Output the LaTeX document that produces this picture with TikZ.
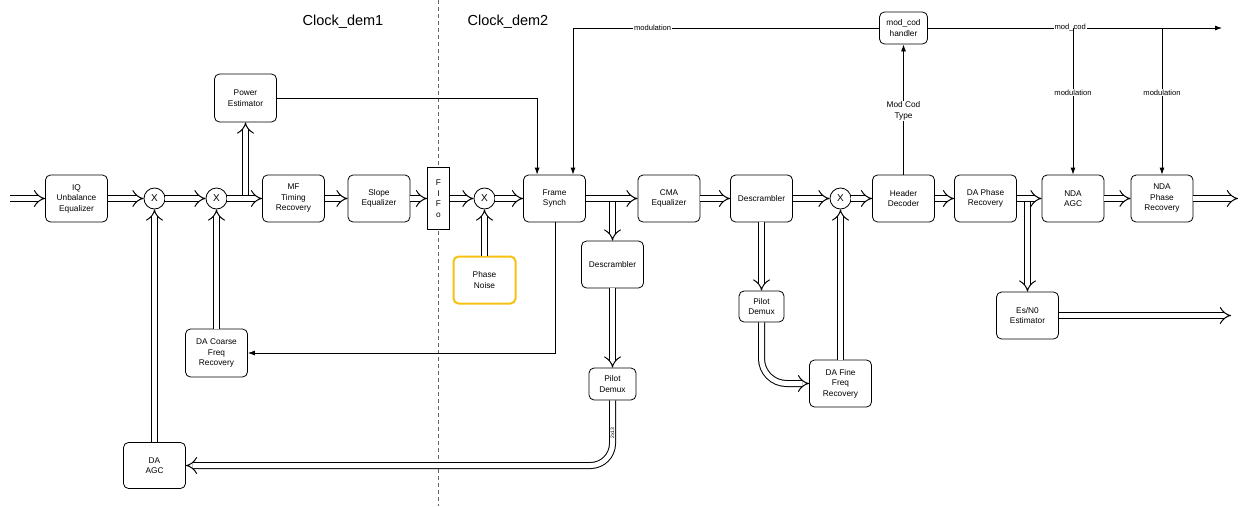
\documentclass[tikz,border=0pt]{standalone}
\usepackage{fontspec}
\setmainfont{Liberation Sans}
\usetikzlibrary{arrows.meta}
\definecolor{pnyellow}{HTML}{F5C211}
\newcommand{\bfs}{\fontsize{8.3}{10.5}\selectfont}
\newcommand{\lfs}{\fontsize{7.6}{9.5}\selectfont}
\tikzset{
  blk/.style={draw, line width=0.8pt, rounded corners=5pt, fill=white, align=center, font=\bfs,
              minimum width=62pt, minimum height=47pt, inner sep=1pt},
  mult/.style={draw, circle, line width=0.8pt, minimum size=21pt, inner sep=0pt, fill=white,
               font=\fontsize{10}{12}\selectfont},
  dbl/.style={double, double distance=5pt, line width=1pt, -{Implies[scale=1.15]}},
  sig/.style={line width=0.8pt, -{Latex[length=7pt,width=5pt]}},
  lbl/.style={font=\lfs, fill=white, inner sep=1pt, align=center},
  clk/.style={font=\fontsize{14.5}{16}\selectfont},
}
\begin{document}
\begin{tikzpicture}[x=1pt,y=-1pt]
\useasboundingbox (0,0) rectangle (1244,506);
% clock domain divider
\coordinate (dtop) at (438.5,0);
\coordinate (dbot) at (438.5,506);
\draw[black!60, line width=1pt, dash pattern=on 4pt off 3pt] (dtop) -- (dbot);
\node[clk] (clk1) at (343,22) {Clock\_dem1};
\node[clk] (clk2) at (508,22) {Clock\_dem2};

% main chain
\node[blk] (iq) at (76.5,198.5) {IQ\\Unbalance\\Equalizer};
\node[mult] (x1) at (154.5,198.5) {X};
\node[mult] (x2) at (216.5,198.5) {X};
\node[blk] (mf) at (293.5,198.5) {MF\\Timing\\Recovery};
\node[blk] (slope) at (379,198.5) {Slope\\Equalizer};
\node[draw, fill=white, line width=0.8pt, minimum width=22pt, minimum height=62pt, font=\bfs,
      align=center, inner sep=0pt] (fifo) at (438.5,198.5) {F\\I\\F\\o};
\node[mult] (x3) at (484.5,198.5) {X};
\node[blk] (fs) at (554.5,198.5) {Frame\\Synch};
\node[blk] (cma) at (669,198.5) {CMA\\Equalizer};
\node[blk] (dsc1) at (761.5,198.5) {Descrambler};
\node[mult] (x4) at (840.5,198.5) {X};
\node[blk] (hdr) at (903.5,198.5) {Header\\Decoder};
\node[blk] (dap) at (985.5,198.5) {DA Phase\\Recovery};
\node[blk] (agc) at (1073,198.5) {NDA\\AGC};
\node[blk] (ndap) at (1162,198.5) {NDA\\Phase\\Recovery};

% side blocks
\node[blk, minimum height=48pt] (pe) at (245.5,98) {Power\\Estimator};
\node[blk, draw=pnyellow, line width=2pt] (pn) at (484.5,280) {Phase\\Noise};
\node[blk] (dsc2) at (612.5,264.5) {Descrambler};
\node[blk, minimum width=47pt, minimum height=32pt] (pd2) at (612.5,384) {Pilot\\Demux};
\node[blk, minimum height=48pt] (dacf) at (216.5,353) {DA Coarse\\Freq\\Recovery};
\node[blk, minimum height=46pt] (daagc) at (154.5,465.5) {DA\\AGC};
\node[blk, minimum width=45pt, minimum height=31pt] (pd1) at (761.5,306.5) {Pilot\\Demux};
\node[blk] (daff) at (840.5,383.5) {DA Fine\\Freq\\Recovery};
\node[blk] (esn0) at (1027.5,315.5) {Es/N0\\Estimator};
\node[blk, minimum width=48pt, minimum height=32pt] (mch) at (903.5,28) {mod\_cod\\handler};

% free ends
\coordinate (in) at (10,198.5);
\coordinate (out1) at (1238,198.5);
\coordinate (out2) at (1231,315.5);
\coordinate (modout) at (1222,28);
\coordinate (tapA) at (245.5,198.5);

% vertical double taps (drawn first)
\draw[dbl] (tapA) -- (tapA |- pe.south);
\draw[dbl] (dsc2.north |- fs.east) -- (dsc2.north);
\draw[dbl] (esn0.north |- dap.east) -- (esn0.north);

% main double chain
\draw[dbl] (in) -- (iq.west);
\draw[dbl] (iq.east) -- (x1.west);
\draw[dbl] (x1.east) -- (x2.west);
\draw[dbl] (x2.east) -- (mf.west);
\draw[dbl] (mf.east) -- (slope.west);
\draw[dbl] (slope.east) -- (fifo.west);
\draw[dbl] (fifo.east) -- (x3.west);
\draw[dbl] (x3.east) -- (fs.west);
\draw[dbl] (fs.east) -- (cma.west);
\draw[dbl] (cma.east) -- (dsc1.west);
\draw[dbl] (dsc1.east) -- (x4.west);
\draw[dbl] (x4.east) -- (hdr.west);
\draw[dbl] (hdr.east) -- (dap.west);
\draw[dbl] (dap.east) -- (agc.west);
\draw[dbl] (agc.east) -- (ndap.west);
\draw[dbl] (ndap.east) -- (out1);

% other double connectors
\draw[dbl] (pn.north) -- (x3.south);
\draw[dbl] (dacf.north) -- (x2.south);
\draw[dbl] (daagc.north) -- (x1.south);
\draw[dbl] (dsc2.south) -- (pd2.north);
\draw[dbl, rounded corners=22pt] (pd2.south) |- (daagc.east)
  node[pos=0.25, rotate=90, font=\fontsize{5}{6}\selectfont, inner sep=0pt] {2x13};
\draw[dbl] (dsc1.south) -- (pd1.north);
\draw[dbl, rounded corners=25pt] (pd1.south) |- (daff.west);
\draw[dbl] (daff.north) -- (x4.south);
\draw[dbl] (esn0.east) -- (out2);

% control signals
\draw[sig] (pe.east) -| ([xshift=14pt]fs.north west);
\draw[sig] ([xshift=0.5pt]fs.south) |- (dacf.east);
\draw[sig] (mch.west) -| ([xshift=18.5pt]fs.north)
  node[lbl, pos=0.37] {modulation};
\draw[sig] (mch.east) -- (modout)
  node[lbl, pos=0.484] {mod\_cod};
\draw[sig] (agc.north |- mch.east) -- (agc.north)
  node[lbl, pos=0.44] {modulation};
\draw[sig] (ndap.north |- mch.east) -- (ndap.north)
  node[lbl, pos=0.44] {modulation};
\draw[sig] (hdr.north) -- (mch.south)
  node[lbl, font=\bfs, pos=0.49] {Mod Cod\\Type};
\end{tikzpicture}
\end{document}
